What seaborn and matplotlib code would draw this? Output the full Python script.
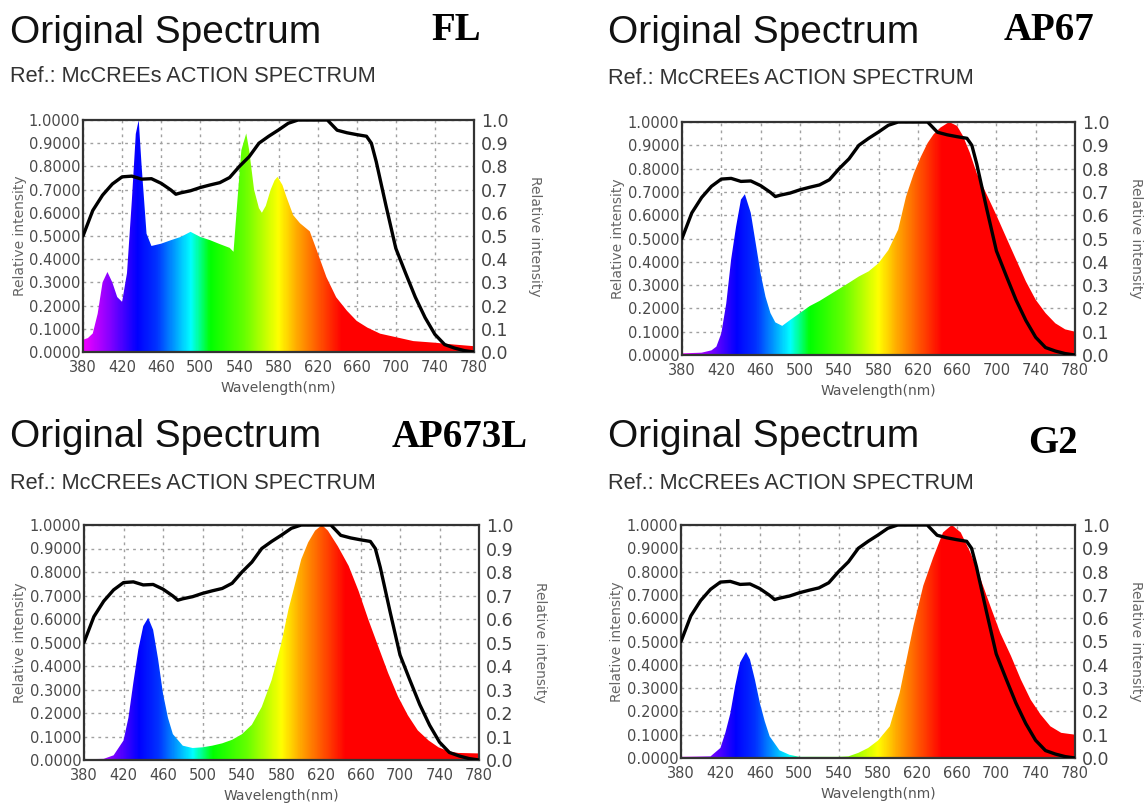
import numpy as np
import matplotlib
matplotlib.use("Agg")
import matplotlib.pyplot as plt
import seaborn as sns
from matplotlib.colors import LinearSegmentedColormap

# McCree action spectrum (same reference curve in every panel)
MCCREE_NM = [380, 390, 400, 410, 420, 430, 440, 450, 460, 470, 475, 480, 490, 500, 510, 520,
             530, 540, 550, 560, 570, 580, 590, 600, 610, 620, 630, 640, 650, 660, 670, 675,
             680, 690, 700, 710, 720, 730, 740, 750, 760, 770, 780]
MCCREE = [0.50, 0.61, 0.676, 0.724, 0.755, 0.758, 0.745, 0.747, 0.727, 0.698, 0.68, 0.686,
          0.695, 0.709, 0.72, 0.73, 0.752, 0.80, 0.842, 0.90, 0.93, 0.957, 0.986, 1.0, 1.0,
          1.0, 1.0, 0.956, 0.945, 0.937, 0.93, 0.90, 0.82, 0.63, 0.447, 0.34, 0.236, 0.148,
          0.076, 0.032, 0.017, 0.006, 0.0]

# lamp spectra
FL_NM = [380, 385, 390, 395, 400, 405, 410, 415, 420, 425, 430, 434, 437, 440, 445, 450, 460,
         470, 480, 490, 500, 510, 520, 530, 534, 538, 542, 547, 550, 555, 560, 563, 567, 572,
         576, 579, 584, 588, 595, 602, 612, 619, 629, 639, 650, 660, 671, 684, 700, 718, 740,
         760, 780]
FL = [0.053, 0.06, 0.08, 0.165, 0.30, 0.345, 0.30, 0.237, 0.216, 0.34, 0.655, 0.94, 1.0, 0.80,
      0.51, 0.457, 0.467, 0.482, 0.496, 0.518, 0.496, 0.482, 0.465, 0.449, 0.432, 0.655, 0.87,
      0.942, 0.87, 0.70, 0.62, 0.60, 0.63, 0.70, 0.74, 0.755, 0.72, 0.67, 0.59, 0.555, 0.52,
      0.44, 0.323, 0.236, 0.178, 0.134, 0.105, 0.079, 0.064, 0.047, 0.04, 0.032, 0.025]

AP67_NM = [380, 400, 410, 415, 420, 425, 430, 435, 440, 444, 450, 455, 460, 465, 470, 475, 482,
           490, 500, 510, 520, 530, 540, 550, 560, 570, 580, 590, 600, 608, 616, 623, 630, 636,
           643, 652, 660, 666, 673, 680, 690, 700, 711, 720, 730, 740, 750, 760, 770, 780]
AP67 = [0.007, 0.01, 0.02, 0.036, 0.093, 0.22, 0.41, 0.55, 0.667, 0.69, 0.61, 0.48, 0.35, 0.25,
        0.18, 0.14, 0.125, 0.15, 0.18, 0.21, 0.232, 0.258, 0.284, 0.31, 0.337, 0.359, 0.394,
        0.45, 0.538, 0.68, 0.78, 0.85, 0.91, 0.947, 0.976, 1.0, 0.983, 0.94, 0.868, 0.78, 0.69,
        0.60, 0.495, 0.41, 0.316, 0.237, 0.18, 0.136, 0.11, 0.10]

AP673L_NM = [380, 400, 410, 420, 425, 430, 435, 440, 445, 450, 455, 460, 465, 470, 480, 490,
             500, 510, 520, 530, 540, 550, 560, 570, 580, 587, 594, 600, 607, 614, 621, 627,
             637, 648, 658, 668, 678, 688, 698, 708, 718, 729, 739, 749, 759, 780]
AP673L = [0.003, 0.005, 0.02, 0.083, 0.18, 0.33, 0.47, 0.57, 0.605, 0.554, 0.43, 0.283, 0.18,
          0.11, 0.061, 0.051, 0.054, 0.061, 0.071, 0.086, 0.11, 0.15, 0.226, 0.34, 0.50, 0.64,
          0.754, 0.854, 0.926, 0.976, 1.0, 0.976, 0.91, 0.826, 0.72, 0.597, 0.483, 0.37, 0.27,
          0.19, 0.126, 0.083, 0.054, 0.037, 0.03, 0.028]

G2_NM = [380, 410, 420, 425, 430, 435, 440, 446, 450, 455, 460, 465, 470, 480, 490, 500, 540,
         550, 560, 570, 580, 592, 602, 616, 626, 636, 646, 655, 664, 674, 684, 694, 704, 715,
         725, 735, 745, 755, 766, 780]
G2 = [0.005, 0.007, 0.043, 0.108, 0.19, 0.31, 0.41, 0.455, 0.423, 0.337, 0.237, 0.158, 0.093,
      0.033, 0.014, 0.005, 0.005, 0.007, 0.022, 0.043, 0.075, 0.136, 0.28, 0.567, 0.74, 0.86,
      0.968, 1.0, 0.968, 0.88, 0.77, 0.653, 0.538, 0.438, 0.337, 0.25, 0.187, 0.136, 0.108,
      0.10]

LAMPS = ["FL", "AP67", "AP673L", "G2"]
SPECTRA = [(FL_NM, FL), (AP67_NM, AP67), (AP673L_NM, AP673L), (G2_NM, G2)]
X_TICKS = [380, 420, 460, 500, 540, 580, 620, 660, 700, 740, 780]
Y_TICKS = [0.0, 0.1, 0.2, 0.3, 0.4, 0.5, 0.6, 0.7, 0.8, 0.9, 1.0]

# wavelength -> colour ramp
RAMP_NM = [380, 405, 435, 455, 490, 510, 545, 580, 600, 620, 645, 780]
RAMP_COL = ["#f000ff", "#8c00ff", "#0000ff", "#0033ff", "#00ffff", "#00ff00", "#66ff00",
            "#ffff00", "#ffa500", "#ff5a00", "#ff0000", "#ff0000"]

W, H = 1147, 805
# axes boxes in pixels: left, top, right, bottom
BOXES = [(83, 120, 474, 352), (682, 122, 1075, 355), (84, 525, 479, 760), (681, 525, 1075, 758)]
TITLE_POS = [(10, 33), (608, 33), (10, 437), (608, 437)]
SUB_POS = [(10, 77), (608, 79), (10, 483), (608, 483)]
LAMP_POS = [(456, 31), (1049, 30), (460, 437), (1053, 443)]

sns.set_theme(style="white")
plt.rcParams["font.family"] = ["DejaVu Sans"]

fig = plt.figure(figsize=(W / 100, H / 100), dpi=100)
fig.patch.set_facecolor("white")

pos = (np.array(RAMP_NM) - 380) / 400.0
cmap = LinearSegmentedColormap.from_list("spec", list(zip(pos, RAMP_COL)))
grad = np.linspace(0, 1, 800).reshape(1, -1)

for i, (name, (nm, val)) in enumerate(zip(LAMPS, SPECTRA)):
    l, t, r, b = BOXES[i]
    ax = fig.add_axes([l / W, 1 - b / H, (r - l) / W, (b - t) / H])
    ax.set_xlim(380, 780)
    ax.set_ylim(0, 1)
    ax.set_axisbelow(True)

    # coloured spectrum: gradient clipped to the area under the curve
    poly = ax.fill_between(nm, val, 0, color="none", lw=0)
    im = ax.imshow(grad, extent=(380, 780, 0, 1), aspect="auto", cmap=cmap,
                   origin="lower", zorder=1, interpolation="bilinear")
    im.set_clip_path(poly.get_paths()[0], transform=ax.transData)

    sns.lineplot(x=MCCREE_NM, y=MCCREE, ax=ax, color="black", lw=2.4, zorder=3)

    ax.set_xticks(X_TICKS)
    ax.set_yticks(Y_TICKS)
    ax.set_yticklabels([f"{v:.4f}" for v in Y_TICKS])
    ax.grid(True, color="#a0a0a0", linestyle=(0, (2, 3)), lw=1)
    ax.tick_params(length=0, labelsize=10.5, labelcolor="#4a4a4a")
    ax.tick_params(axis="y", pad=2)
    ax.tick_params(axis="x", pad=6)
    for s in ax.spines.values():
        s.set_color("#333333")
        s.set_linewidth(1.6)

    ax.set_xlabel("Wavelength(nm)", fontsize=10, color="#555555")
    ax.xaxis.label.set(va="center")
    ax.xaxis.set_label_coords(0.5, -0.155)
    ax.set_ylabel("Relative intensity", fontsize=10, color="#666666")
    ax.yaxis.label.set(ha="center", va="center")
    ax.yaxis.set_label_coords(-0.162, 0.5)

    ax2 = ax.twinx()
    ax2.set_ylim(0, 1)
    ax2.set_yticks(Y_TICKS)
    ax2.set_yticklabels([f"{v:.1f}" for v in Y_TICKS])
    ax2.tick_params(length=0, labelsize=12.5, labelcolor="#444444", pad=5)
    ax2.grid(False)
    for s in ax2.spines.values():
        s.set_visible(False)
    ax2.set_ylabel("Relative intensity", fontsize=10, color="#666666", rotation=270)
    ax2.yaxis.label.set(ha="center", va="center")
    ax2.yaxis.set_label_coords(1.155, 0.5)

    tx, ty = TITLE_POS[i]
    fig.text(tx / W, 1 - ty / H, "Original Spectrum", fontsize=28,
             family=["Liberation Sans", "DejaVu Sans"], color="#111111", va="center")
    sx, sy = SUB_POS[i]
    fig.text(sx / W, 1 - sy / H, "Ref.: McCREEs ACTION SPECTRUM", fontsize=15.7,
             family=["Liberation Sans", "DejaVu Sans"], color="#333333", va="center")
    lx, ly = LAMP_POS[i]
    fig.text(lx / W, 1 - ly / H, name, fontsize=28, fontweight="bold",
             family=["Liberation Serif", "DejaVu Serif"], color="black",
             ha="center", va="center")

fig.savefig("out.png", dpi=100, facecolor="white")
